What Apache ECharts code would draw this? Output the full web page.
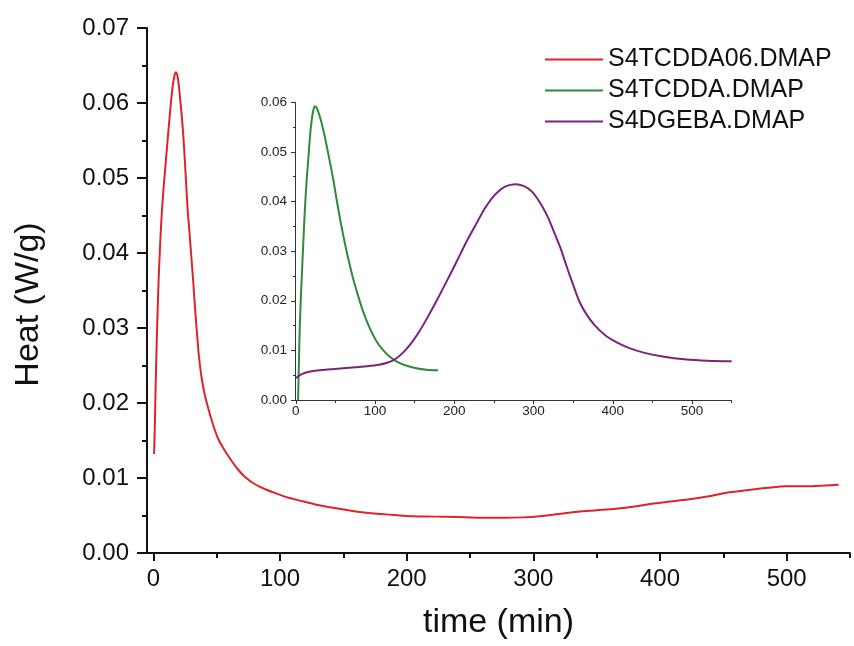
<!DOCTYPE html>
<html>
<head>
<meta charset="utf-8">
<script src="https://cdn.jsdelivr.net/npm/echarts@6/dist/echarts.min.js"></script>
<style>html,body{margin:0;padding:0;background:#fff}#c{width:854px;height:646px}</style>
</head>
<body>
<div id="c"></div>
<script>
// Main chart: S4TCDDA06.DMAP
const redTime = [0.6,1.2,1.8,2.5,3.3,4.2,5.2,6.5,8,9.5,11,12.5,14,15.5,16.8,17.8,18.8,20,21.2,22.5,24,25.5,27,28.5,30,31.5,33,34.5,36,38,40.5,43.5,47,51,55.5,60.5,66,72,79,87,96,106,118,130,143,157,172,188,205,222,240,258,276,292,305,320,335,350,365,380,395,410,425,440,455,470,485,500,515,530,541];
const redHeat = [0.0132,0.017,0.022,0.027,0.0318,0.0365,0.0405,0.0448,0.0485,0.0515,0.0545,0.0575,0.0602,0.0625,0.0637,0.0641,0.0638,0.0625,0.0605,0.0582,0.0548,0.0505,0.046,0.0428,0.0395,0.0362,0.0325,0.0292,0.0262,0.0235,0.0212,0.0192,0.0172,0.0153,0.0139,0.0126,0.0113,0.0102,0.0093,0.0086,0.008,0.0074,0.0069,0.0064,0.006,0.0056,0.0053,0.0051,0.0049,0.00485,0.0048,0.0047,0.0047,0.00475,0.0049,0.0052,0.0055,0.0057,0.0059,0.0062,0.0066,0.0069,0.0072,0.0076,0.0081,0.0084,0.0087,0.0089,0.0089,0.009,0.0091];

// Inset: S4TCDDA.DMAP
const greenTime = [2.9,4,5,6.5,8.4,10,11.5,13.5,15.5,18,20,22,24,26,29,32,36,41,47,53,59.7,66,72.3,79,85,93,102,110,118.5,128,140,152,165,179.4];
const greenHeat = [0,0.008,0.0145,0.021,0.0279,0.0335,0.0385,0.0438,0.048,0.0533,0.0563,0.0583,0.0592,0.059,0.0578,0.0562,0.0535,0.0496,0.0447,0.039,0.0333,0.0286,0.0245,0.0208,0.0178,0.0146,0.0118,0.0101,0.0087,0.0077,0.0069,0.0064,0.0061,0.006];

// Inset: S4DGEBA.DMAP
const purpleTime = [0,5,12,20,30,45,60,75,90,105,115,125,135,145,155,165,177,190,203,215,228,240,252,264,277,288,298,308,317,326,334,342,350,358,367,377,390,405,420,440,465,490,520,550];
const purpleHeat = [0.0044,0.005,0.0055,0.0058,0.006,0.0062,0.0064,0.0066,0.0068,0.0071,0.0075,0.0082,0.0095,0.0113,0.0136,0.0163,0.0198,0.0238,0.0279,0.0318,0.0356,0.039,0.0415,0.043,0.0435,0.0431,0.042,0.0398,0.0372,0.0338,0.0306,0.0268,0.0232,0.0198,0.0172,0.0151,0.0131,0.0116,0.0105,0.0095,0.0087,0.0082,0.0079,0.0078];

const seriesNames = ['S4TCDDA06.DMAP','S4TCDDA.DMAP','S4DGEBA.DMAP'];
const mainXLabels = [0,100,200,300,400,500];
const mainXMinor = [50,150,250,350,450,550];
const insetXLabels = [0,100,200,300,400,500];
const insetXMinor = [50,150,250,350,450,550];

const colors = ['#dd242b','#2f8a3a','#7a237c'];
const FONT = 'Arial, "Liberation Sans", sans-serif';

function pairs(t, v) { return t.map((x, i) => [x, v[i]]); }

const chart = echarts.init(document.getElementById('c'), null, {renderer: 'canvas'});
chart.setOption({
  animation: false,
  backgroundColor: '#fff',
  grid: [
    {left: 147, top: 28, width: 703, height: 525, outerBoundsMode: 'none', containLabel: false},
    {left: 295, top: 102.3, width: 436.7, height: 297.7, outerBoundsMode: 'none', containLabel: false}
  ],
  legend: {
    orient: 'vertical', left: 540, top: 42, itemWidth: 58, itemHeight: 2, itemGap: 6,
    icon: 'rect',
    data: seriesNames,
    textStyle: {fontFamily: FONT, fontSize: 25, color: '#111', lineHeight: 25}
  },
  xAxis: [
    {type: 'value', gridIndex: 0, position: 'bottom', min: -5, max: 550,
     name: 'time (min)', nameLocation: 'middle', nameGap: 53,
     nameTextStyle: {fontFamily: FONT, fontSize: 34, color: '#111'},
     axisLine: {onZero: false, lineStyle: {color: '#111', width: 2}},
     axisTick: {show: true, customValues: mainXLabels, length: 8, lineStyle: {color: '#111', width: 2}},
     axisLabel: {customValues: mainXLabels, fontFamily: FONT, fontSize: 24, color: '#111', margin: 14},
     splitLine: {show: false}},
    {type: 'value', gridIndex: 0, position: 'bottom', min: -5, max: 550,
     axisLine: {show: false, onZero: false},
     axisTick: {show: true, customValues: mainXMinor, length: 5, lineStyle: {color: '#111', width: 2}},
     axisLabel: {show: false}, splitLine: {show: false}},
    {type: 'value', gridIndex: 1, position: 'bottom', min: -1, max: 550,
     axisLine: {onZero: false, lineStyle: {color: '#333', width: 1}},
     axisTick: {show: true, customValues: insetXLabels, length: 4, lineStyle: {color: '#333', width: 1}},
     axisLabel: {customValues: insetXLabels, fontFamily: FONT, fontSize: 13.5, color: '#222', margin: 4},
     splitLine: {show: false}},
    {type: 'value', gridIndex: 1, position: 'bottom', min: -1, max: 550,
     axisLine: {show: false, onZero: false},
     axisTick: {show: true, customValues: insetXMinor, length: 3, lineStyle: {color: '#333', width: 1}},
     axisLabel: {show: false}, splitLine: {show: false}}
  ],
  yAxis: [
    {type: 'value', gridIndex: 0, min: 0, max: 0.07, interval: 0.01,
     name: 'Heat (W/g)', nameLocation: 'middle', nameGap: 101,
     nameTextStyle: {fontFamily: FONT, fontSize: 34, color: '#111', padding: [0, 28, 0, 0]},
     axisLine: {show: true, onZero: false, lineStyle: {color: '#111', width: 2}},
     axisTick: {show: true, length: 10, lineStyle: {color: '#111', width: 2}},
     minorTick: {show: true, splitNumber: 2, length: 5, lineStyle: {color: '#111', width: 2}},
     axisLabel: {fontFamily: FONT, fontSize: 24, color: '#111', margin: 18, formatter: v => v.toFixed(2)},
     splitLine: {show: false}, minorSplitLine: {show: false}},
    {type: 'value', gridIndex: 1, min: 0, max: 0.06, interval: 0.01,
     axisLine: {show: true, onZero: false, lineStyle: {color: '#333', width: 1}},
     axisTick: {show: true, length: 4, lineStyle: {color: '#333', width: 1}},
     minorTick: {show: true, splitNumber: 2, length: 2, lineStyle: {color: '#333', width: 1}},
     axisLabel: {fontFamily: FONT, fontSize: 13.5, color: '#222', margin: 8, formatter: v => v.toFixed(2)},
     splitLine: {show: false}, minorSplitLine: {show: false}}
  ],
  series: [
    {name: seriesNames[0], type: 'line', xAxisIndex: 0, yAxisIndex: 0, symbol: 'none', smooth: 0.3,
     lineStyle: {color: colors[0], width: 2}, itemStyle: {color: colors[0]}, data: pairs(redTime, redHeat)},
    {name: seriesNames[1], type: 'line', xAxisIndex: 2, yAxisIndex: 1, symbol: 'none', smooth: 0.3,
     lineStyle: {color: colors[1], width: 2}, itemStyle: {color: colors[1]}, data: pairs(greenTime, greenHeat)},
    {name: seriesNames[2], type: 'line', xAxisIndex: 2, yAxisIndex: 1, symbol: 'none', smooth: 0.3,
     lineStyle: {color: colors[2], width: 2}, itemStyle: {color: colors[2]}, data: pairs(purpleTime, purpleHeat)}
  ]
});
</script>
</body>
</html>
